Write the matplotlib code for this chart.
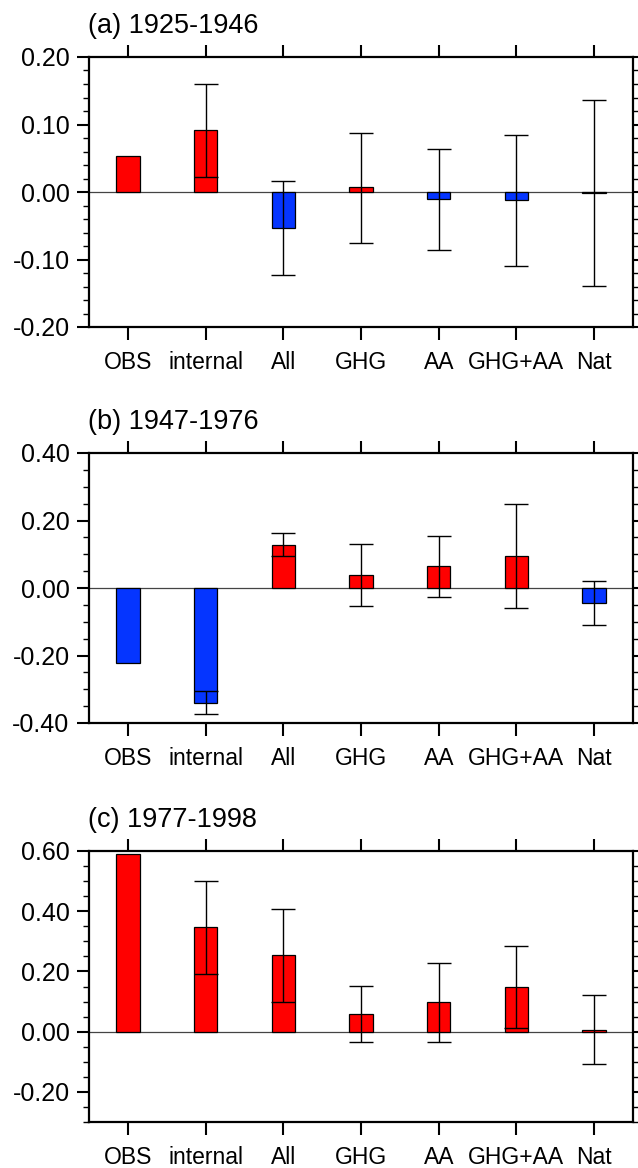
import numpy as np
import matplotlib
matplotlib.use('Agg')
import matplotlib.pyplot as plt
from matplotlib.ticker import MultipleLocator, FormatStrFormatter

plt.rcParams['font.family'] = ['Liberation Sans', 'DejaVu Sans']
plt.rcParams['axes.unicode_minus'] = False

nan = np.nan
cats = ['OBS', 'internal', 'All', 'GHG', 'AA', 'GHG+AA', 'Nat']

# (a) 1925-1946
a_val = [0.054, 0.092, -0.054, 0.007, -0.011, -0.012, -0.002]
a_hi = [nan, 0.160, 0.016, 0.088, 0.064, 0.084, 0.136]
a_lo = [nan, 0.022, -0.123, -0.075, -0.086, -0.109, -0.139]

# (b) 1947-1976
b_val = [-0.221, -0.340, 0.127, 0.039, 0.066, 0.096, -0.043]
b_hi = [nan, -0.305, 0.163, 0.129, 0.155, 0.249, 0.021]
b_lo = [nan, -0.374, 0.094, -0.053, -0.026, -0.059, -0.110]

# (c) 1977-1998
c_val = [0.590, 0.347, 0.253, 0.058, 0.098, 0.148, 0.007]
c_hi = [nan, 0.502, 0.408, 0.151, 0.229, 0.284, 0.123]
c_lo = [nan, 0.190, 0.097, -0.034, -0.034, 0.012, -0.107]

RED = '#ff0000'
BLUE = '#0535ff'

W, H = 638, 1168
fig = plt.figure(figsize=(W / 100, H / 100), dpi=100)


def panel(rect, title, vals, hi, lo, ylim, major, minor):
    l, t, r, b = rect
    ax = fig.add_axes([l / W, 1 - b / H, (r - l) / W, (b - t) / H])
    x = np.arange(1, len(cats) + 1)
    vals = np.array(vals)
    hi = np.array(hi)
    lo = np.array(lo)
    cols = [RED if v > 0 else BLUE for v in vals]
    ax.axhline(0, color='#444444', lw=0.9, zorder=1)
    ax.bar(x, vals, 0.3, color=cols, edgecolor='black', linewidth=0.9, zorder=2)
    m = ~np.isnan(hi)
    mid = (hi[m] + lo[m]) / 2
    ax.errorbar(x[m], mid, yerr=[mid - lo[m], hi[m] - mid], fmt='none',
                ecolor='black', elinewidth=1.0, capsize=8.3, capthick=1.0, zorder=3)
    ax.set_xlim(0.5, 7.5)
    ax.set_ylim(*ylim)
    ax.set_xticks(x)
    ax.set_xticklabels(cats, fontsize=16.5)
    ax.yaxis.set_major_locator(MultipleLocator(major))
    ax.yaxis.set_minor_locator(MultipleLocator(minor))
    ax.yaxis.set_major_formatter(FormatStrFormatter('%.2f'))
    ax.tick_params(axis='y', which='major', labelsize=18, direction='out',
                   length=9, width=1.5, pad=5, right=True)
    ax.tick_params(axis='y', which='minor', direction='out', length=4.5,
                   width=1.0, right=True)
    ax.tick_params(axis='x', which='major', direction='out', length=9,
                   width=1.5, pad=8, top=True)
    ax.tick_params(axis='x', which='minor', bottom=False, top=False)
    for s in ax.spines.values():
        s.set_linewidth(1.6)
    ax.annotate(title, xy=(0, 1), xycoords='axes fraction', xytext=(-1, 17.5),
                textcoords='offset points', fontsize=19.5, ha='left', va='baseline')
    return ax


panel((89, 57, 633, 327), '(a) 1925-1946', a_val, a_hi, a_lo, (-0.2, 0.2), 0.1, 0.02)
panel((89, 453, 633, 723), '(b) 1947-1976', b_val, b_hi, b_lo, (-0.4, 0.4), 0.2, 0.05)
panel((89, 851, 633, 1122), '(c) 1977-1998', c_val, c_hi, c_lo, (-0.3, 0.6), 0.2, 0.05)

fig.savefig('out.png', dpi=100)
